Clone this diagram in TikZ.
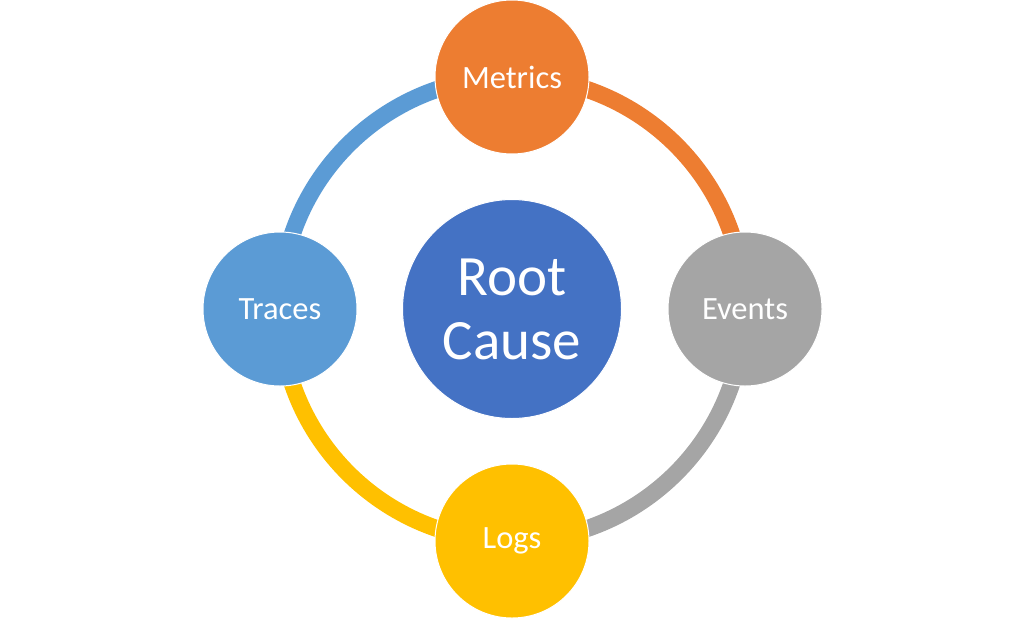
\documentclass[tikz,border=0pt]{standalone}
\usepackage{fontspec}
\setmainfont{Carlito}
\definecolor{cOrange}{HTML}{ED7D31}
\definecolor{cGray}{HTML}{A5A5A5}
\definecolor{cYellow}{HTML}{FFC000}
\definecolor{cLBlue}{HTML}{5B9BD5}
\definecolor{cBlue}{HTML}{4472C4}
\begin{document}
\begin{tikzpicture}[x=1pt,y=-1pt,
  ringarc/.style={line width=17pt},
  sat/.style={circle, draw=white, line width=1pt, minimum size=154pt, inner sep=0pt, text=white, font=\fontsize{32.5}{38}\selectfont},
  core/.style={circle, draw=white, line width=1pt, minimum size=219pt, inner sep=0pt, text=white, align=center, font=\fontsize{57}{64}\selectfont}]
\useasboundingbox (0,0) rectangle (1024,619);
\coordinate (c) at (512,309);
\draw[ringarc, cOrange] (512,77) arc[start angle=90, end angle=0, radius=232pt];
\draw[ringarc, cGray] (744,309) arc[start angle=0, end angle=-90, radius=232pt];
\draw[ringarc, cYellow] (512,541) arc[start angle=-90, end angle=-180, radius=232pt];
\draw[ringarc, cLBlue] (280,309) arc[start angle=180, end angle=90, radius=232pt];
\node[core, fill=cBlue] (root) at (c) {Root\\Cause};
\node[sat, fill=cOrange] (metrics) at (512,77) {Metrics};
\node[sat, fill=cGray] (events) at (745,309) {Events};
\node[sat, fill=cYellow] (logs) at (512,541) {Logs};
\node[sat, fill=cLBlue] (traces) at (280,309) {Traces};
\end{tikzpicture}
\end{document}
